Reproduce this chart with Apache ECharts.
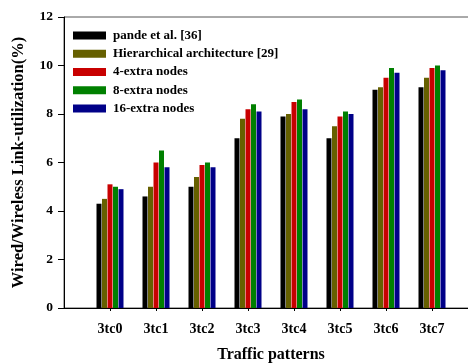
<!DOCTYPE html>
<html>
<head>
<meta charset="utf-8">
<script src="https://cdn.jsdelivr.net/npm/echarts@6/dist/echarts.min.js"></script>
<style>
  html, body { margin: 0; padding: 0; background: #fff; }
  #chart { width: 468px; height: 363px; }
</style>
</head>
<body>
<div id="chart"></div>
<script>
// Traffic pattern categories (padded with empty slots at both ends)
const categories = ['', '3tc0', '3tc1', '3tc2', '3tc3', '3tc4', '3tc5', '3tc6', '3tc7', ''];

// Link utilization (%) per scheme
const pande = [4.3, 4.6, 5.0, 7.0, 7.9, 7.0, 9.0, 9.1];
const hierarchical = [4.5, 5.0, 5.4, 7.8, 8.0, 7.5, 9.1, 9.5];
const extra4 = [5.1, 6.0, 5.9, 8.2, 8.5, 7.9, 9.5, 9.9];
const extra8 = [5.0, 6.5, 6.0, 8.4, 8.6, 8.1, 9.9, 10.0];
const extra16 = [4.9, 5.8, 5.8, 8.1, 8.2, 8.0, 9.7, 9.8];

const seriesNames = ['pande et al. [36]', 'Hierarchical architecture [29]', '4-extra nodes', '8-extra nodes', '16-extra nodes'];
const seriesData = [pande, hierarchical, extra4, extra8, extra16];
const colors = ['#000000', '#666000', '#c80000', '#008000', '#000088'];

const yTicks = [0, 2, 4, 6, 8, 10, 12];

const font = '"Liberation Serif", "Times New Roman", serif';

const chart = echarts.init(document.getElementById('chart'), null, { renderer: 'canvas' });

chart.setOption({
  animation: false,
  textStyle: { fontFamily: font },
  grid: {
    left: 64, top: 17, height: 291, width: 414,
    outerBoundsMode: 'none',
    containLabel: false,
    show: true, borderColor: '#555', borderWidth: 1, backgroundColor: 'transparent'
  },
  legend: {
    left: 68, top: 24,
    orient: 'vertical',
    itemWidth: 33, itemHeight: 8, itemGap: 5.25,
    icon: 'rect',
    data: seriesNames,
    textStyle: {
      fontFamily: font, fontWeight: 'bold', fontSize: 13, lineHeight: 13,
      color: '#000', padding: [0, 0, 0, 2]
    }
  },
  xAxis: {
    type: 'category',
    data: categories,
    boundaryGap: false,
    name: 'Traffic patterns',
    nameLocation: 'middle',
    nameGap: 39,
    nameTextStyle: { fontFamily: font, fontWeight: 'bold', fontSize: 16, color: '#000' },
    axisLine: { lineStyle: { color: '#000', width: 1 } },
    axisTick: {
      length: 3, inside: false,
      interval: (i) => i > 0 && i < categories.length - 1,
      lineStyle: { color: '#000' }
    },
    axisLabel: {
      interval: 0, margin: 14,
      fontFamily: font, fontWeight: 'bold', fontSize: 14, color: '#000'
    },
    splitLine: { show: false }
  },
  yAxis: {
    type: 'value',
    min: yTicks[0], max: yTicks[yTicks.length - 1], interval: 2,
    name: 'Wired/Wireless Link-utilization(%)',
    nameLocation: 'middle',
    nameGap: 37,
    nameTextStyle: { fontFamily: font, fontWeight: 'bold', fontSize: 16.5, color: '#000' },
    axisLine: { show: true, lineStyle: { color: '#000', width: 1 } },
    axisTick: { show: true, length: 6, lineStyle: { color: '#000' } },
    axisLabel: { margin: 11, fontFamily: font, fontWeight: 'bold', fontSize: 13.5, color: '#000' },
    splitLine: { show: false }
  },
  series: seriesNames.map((name, k) => ({
    name,
    type: 'bar',
    barWidth: 5,
    barGap: '10%',
    itemStyle: { color: colors[k] },
    data: [null].concat(seriesData[k]).concat([null])
  }))
});
</script>
</body>
</html>
